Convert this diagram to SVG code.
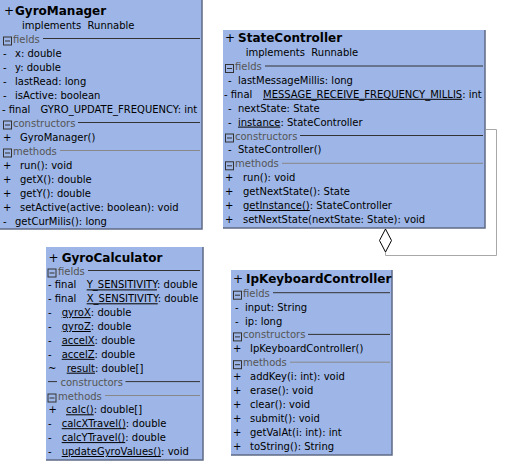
<svg xmlns="http://www.w3.org/2000/svg" xmlns:xlink="http://www.w3.org/1999/xlink" width="506" height="463" viewBox="0 0 506 463">
<style>
.box{fill:#9db6e7}
.edge{fill:none;stroke:#5f6a85;stroke-width:1.5}
text{font-family:"DejaVu Sans",Verdana,sans-serif;font-size:10px;fill:#000}
.ttl{font-size:12px;font-weight:bold}
.pl{font-size:12px}
.hdr{fill:#555}
.u{text-decoration:underline}
.ln{stroke:#333;stroke-width:1}
.ln2{stroke:#888;stroke-width:1}
.ico{fill:none;stroke:#333;stroke-width:1}
.conn{fill:none;stroke:#a8a8a8;stroke-width:1}
.dia{fill:#fff;stroke:#000;stroke-width:1}
</style>
<defs>
<g id="minus" class="ico"><rect x="0.5" y="0.5" width="8" height="8"/><line x1="2" y1="4.5" x2="7" y2="4.5"/></g>
</defs>

<g id="connectors">
<path class="conn" d="M486,129.5 H496.5 V255.5 H385.5 V252"/>
<polygon class="dia" points="385.5,229 391.5,240.5 385.5,252 379.5,240.5"/>
</g>

<g id="GyroManager">
<rect class="box" x="0" y="0" width="202" height="229"/>
<path class="edge" d="M202,0 V229 H0"/>
<text x="4" y="15" class="pl">+</text>
<text x="15" y="15" class="ttl">GyroManager</text>
<text x="22" y="28.5">implements</text><text x="87.6" y="28.5">Runnable</text>
<use xlink:href="#minus" x="3" y="36.5"/>
<text x="13" y="42.5" class="hdr">fields</text>
<line class="ln" x1="43" y1="38.5" x2="200" y2="38.5"/>
<text x="3" y="56.5">-</text><text x="15" y="56.5">x: double</text>
<text x="3" y="70.5">-</text><text x="15" y="70.5">y: double</text>
<text x="3" y="84.5">-</text><text x="15" y="84.5">lastRead: long</text>
<text x="3" y="98.5">-</text><text x="15" y="98.5">isActive: boolean</text>
<text x="2" y="112.5">- final</text><text x="40.5" y="112.5">GYRO_UPDATE_FREQUENCY: int</text>
<use xlink:href="#minus" x="3" y="120.5"/>
<text x="13" y="126.5" class="hdr">constructors</text>
<line class="ln" x1="78" y1="122.5" x2="200" y2="122.5"/>
<text x="3" y="140.5">+</text><text x="20" y="140.5">GyroManager()</text>
<use xlink:href="#minus" x="3" y="148.5"/>
<text x="13" y="154.5" class="hdr">methods</text>
<line class="ln2" x1="60" y1="150.5" x2="200" y2="150.5"/>
<text x="3" y="168.5">+</text><text x="20" y="168.5">run(): void</text>
<text x="3" y="182.5">+</text><text x="20" y="182.5">getX(): double</text>
<text x="3" y="196.5">+</text><text x="20" y="196.5">getY(): double</text>
<text x="3" y="210.5">+</text><text x="20" y="210.5">setActive(active: boolean): void</text>
<text x="3" y="224.5">-</text><text x="15" y="224.5">getCurMilis(): long</text>
</g>

<g id="StateController">
<rect class="box" x="223" y="30" width="262" height="198"/>
<path class="edge" d="M485,30 V228 H223"/>
<text x="225" y="42" class="pl">+</text>
<text x="238" y="42" class="ttl">StateController</text>
<text x="245.7" y="56">implements</text><text x="311.3" y="56">Runnable</text>
<use xlink:href="#minus" x="225" y="64"/>
<text x="235" y="70" class="hdr">fields</text>
<line class="ln" x1="265" y1="66" x2="483" y2="66"/>
<text x="228" y="83.9">-</text><text x="238" y="83.9">lastMessageMillis: long</text>
<text x="224" y="97.8">- final</text><text x="263" y="97.8"><tspan class="u">MESSAGE_RECEIVE_FREQUENCY_MILLIS</tspan>: int</text>
<text x="228" y="111.7">-</text><text x="238" y="111.7">nextState: State</text>
<text x="228" y="125.6">-</text><text x="238" y="125.6"><tspan class="u">instance</tspan>: StateController</text>
<use xlink:href="#minus" x="225" y="133.5"/>
<text x="235" y="139.5" class="hdr">constructors</text>
<line class="ln" x1="300" y1="135.5" x2="483" y2="135.5"/>
<text x="228" y="153.4">-</text><text x="238" y="153.4">StateController()</text>
<use xlink:href="#minus" x="225" y="161.3"/>
<text x="235" y="167.3" class="hdr">methods</text>
<line class="ln2" x1="282" y1="163.3" x2="483" y2="163.3"/>
<text x="225" y="181.2">+</text><text x="243" y="181.2">run(): void</text>
<text x="225" y="195.1">+</text><text x="243" y="195.1">getNextState(): State</text>
<text x="225" y="209">+</text><text x="243" y="209"><tspan class="u">getInstance()</tspan>: StateController</text>
<text x="225" y="222.9">+</text><text x="243" y="222.9">setNextState(nextState: State): void</text>
</g>

<g id="GyroCalculator">
<rect class="box" x="46" y="247" width="157" height="213"/>
<path class="edge" d="M203,247 V460 H46"/>
<text x="48.5" y="261.7" class="pl">+</text>
<text x="61.7" y="261.7" class="ttl">GyroCalculator</text>
<use xlink:href="#minus" x="47.5" y="268.5"/>
<text x="58" y="274.5" class="hdr">fields</text>
<line class="ln" x1="88" y1="270.5" x2="200" y2="270.5"/>
<text x="48" y="288.4">- final</text><text x="86.7" y="288.4"><tspan class="u">Y_SENSITIVITY</tspan>: double</text>
<text x="48" y="302.3">- final</text><text x="86.7" y="302.3"><tspan class="u">X_SENSITIVITY</tspan>: double</text>
<text x="48" y="316.1">-</text><text x="61.7" y="316.1"><tspan class="u">gyroX</tspan>: double</text>
<text x="48" y="330">-</text><text x="61.7" y="330"><tspan class="u">gyroZ</tspan>: double</text>
<text x="48" y="343.9">-</text><text x="61.7" y="343.9"><tspan class="u">accelX</tspan>: double</text>
<text x="48" y="357.8">-</text><text x="61.7" y="357.8"><tspan class="u">accelZ</tspan>: double</text>
<text x="48" y="371.7">~</text><text x="66.7" y="371.7"><tspan class="u">result</tspan>: double[]</text>
<line class="ln" x1="48" y1="381.6" x2="57" y2="381.6"/>
<text x="60.5" y="385.6" class="hdr">constructors</text>
<line class="ln" x1="125.5" y1="381.6" x2="200" y2="381.6"/>
<use xlink:href="#minus" x="47.5" y="393.5"/>
<text x="58" y="399.5" class="hdr">methods</text>
<line class="ln2" x1="105" y1="395.5" x2="200" y2="395.5"/>
<text x="48.5" y="413.3">+</text><text x="66" y="413.3"><tspan class="u">calc()</tspan>: double[]</text>
<text x="48" y="427.2">-</text><text x="61.7" y="427.2"><tspan class="u">calcXTravel()</tspan>: double</text>
<text x="48" y="441.1">-</text><text x="61.7" y="441.1"><tspan class="u">calcYTravel()</tspan>: double</text>
<text x="48" y="455">-</text><text x="61.7" y="455"><tspan class="u">updateGyroValues()</tspan>: void</text>
</g>

<g id="IpKeyboardController">
<rect class="box" x="231" y="270" width="161" height="185"/>
<path class="edge" d="M392,270 V455 H231"/>
<text x="233" y="283.3" class="pl">+</text>
<text x="246" y="283.3" class="ttl">IpKeyboardController</text>
<use xlink:href="#minus" x="233" y="290.7"/>
<text x="243" y="296.7" class="hdr">fields</text>
<line class="ln" x1="273" y1="292.7" x2="390" y2="292.7"/>
<text x="235" y="310.6">-</text><text x="245" y="310.6">input: String</text>
<text x="235" y="324.5">-</text><text x="245" y="324.5">ip: long</text>
<use xlink:href="#minus" x="233" y="332.4"/>
<text x="243" y="338.4" class="hdr">constructors</text>
<line class="ln" x1="308" y1="334.4" x2="390" y2="334.4"/>
<text x="233" y="352.3">+</text><text x="250" y="352.3">IpKeyboardController()</text>
<use xlink:href="#minus" x="233" y="360.2"/>
<text x="243" y="366.2" class="hdr">methods</text>
<line class="ln2" x1="290" y1="362.2" x2="390" y2="362.2"/>
<text x="233" y="380.1">+</text><text x="250" y="380.1">addKey(i: int): void</text>
<text x="233" y="394">+</text><text x="250" y="394">erase(): void</text>
<text x="233" y="407.9">+</text><text x="250" y="407.9">clear(): void</text>
<text x="233" y="421.8">+</text><text x="250" y="421.8">submit(): void</text>
<text x="233" y="435.7">+</text><text x="250" y="435.7">getValAt(i: int): int</text>
<text x="233" y="449.6">+</text><text x="250" y="449.6">toString(): String</text>
</g>
</svg>
